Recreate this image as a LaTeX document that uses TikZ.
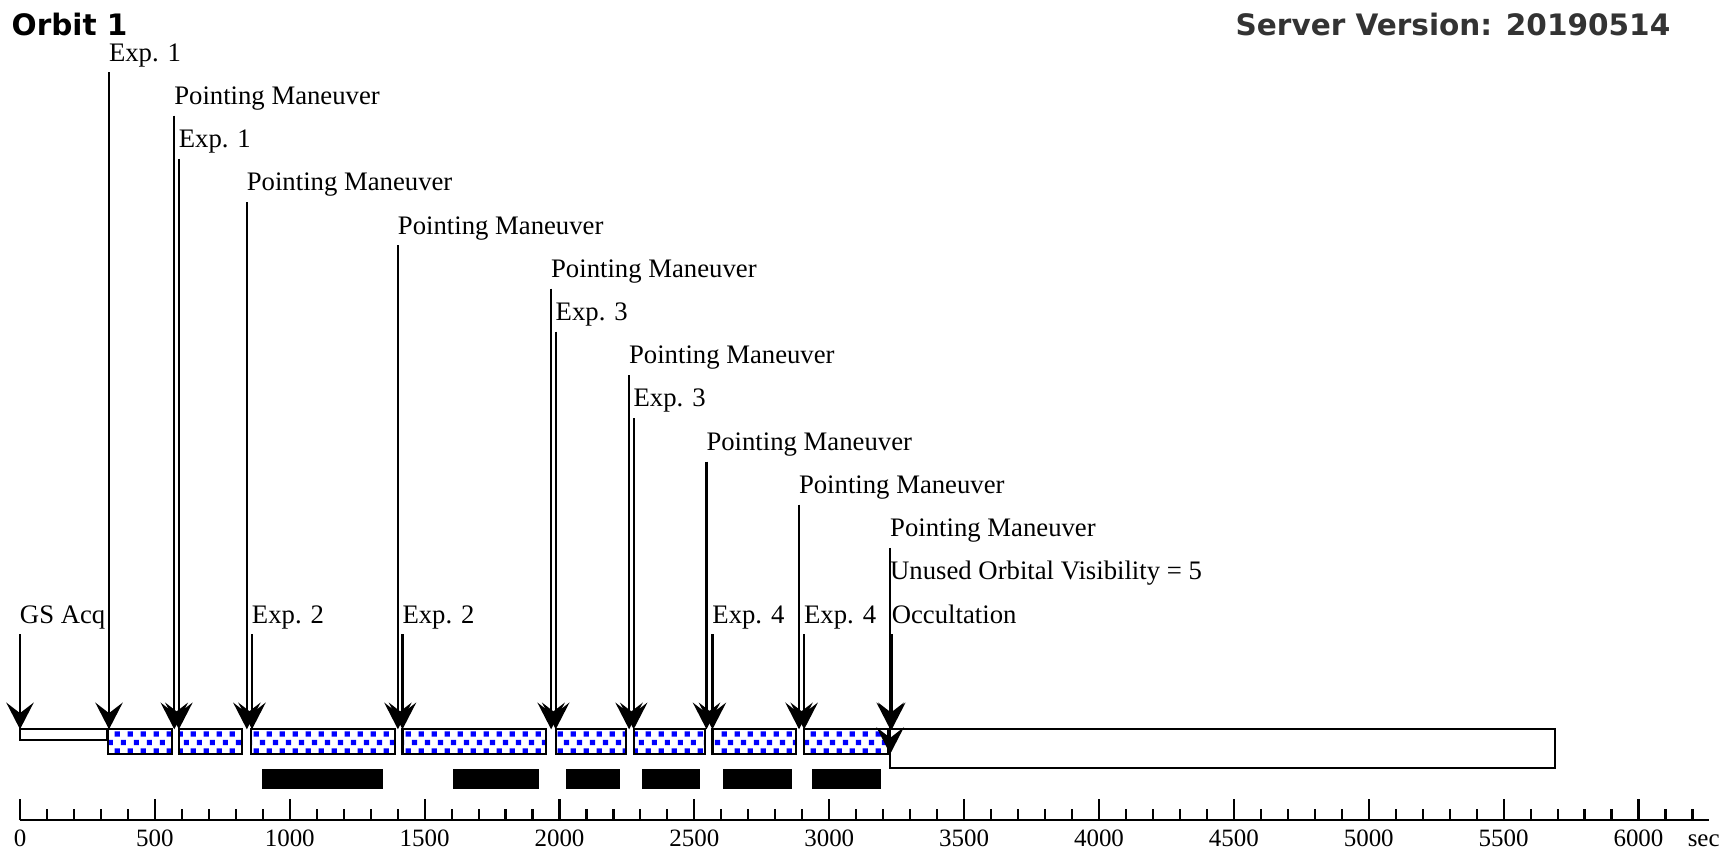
\documentclass[tikz,border=0pt]{standalone}
\usepackage{fontspec}
\setmainfont{Liberation Serif}
\newfontfamily\headfont{DejaVu Sans}
\usetikzlibrary{arrows.meta, patterns}

% blue dot fill of the scheduled slots
\pgfdeclarepatternformonly{bluedots}{\pgfpointorigin}{\pgfqpoint{3.6pt}{4.8pt}}{\pgfqpoint{3.6pt}{4.8pt}}{%
  \pgfpathrectangle{\pgfqpoint{0.2pt}{0.4pt}}{\pgfqpoint{1.5pt}{1.5pt}}%
  \pgfpathrectangle{\pgfqpoint{2pt}{2.8pt}}{\pgfqpoint{1.5pt}{1.5pt}}%
  \pgfusepath{fill}}

\begin{document}
\begin{tikzpicture}[
  x=0.1mm, y=-0.1mm,
  header/.style={font=\headfont\bfseries\fontsize{8.4}{10}\selectfont, inner sep=0pt},
  evtlabel/.style={font=\fontsize{7.6}{9}\selectfont, inner sep=0pt, outer xsep=0pt, outer ysep=1.2pt, text depth=2pt, anchor=south west},
  evtarrow/.style={-{Stealth[length=7.6pt, width=7.8pt, inset=3pt]}, line width=0.6pt},
  slot/.style={draw, line width=0.6pt, preaction={fill=white}, pattern=bluedots, pattern color=blue},
  idle/.style={draw, line width=0.6pt, fill=white},
  busy/.style={fill=black},
  axisline/.style={line width=0.6pt},
  ticklabel/.style={font=\fontsize{7.1}{8}\selectfont, inner sep=0pt, anchor=base}
]
\useasboundingbox (0,0) rectangle (1735,856);

% Header
\node[header, anchor=base west] (orbit) at (11,35) {Orbit 1};
\node[header, anchor=base east, text=black!80] (server) at (1671,35) {Server Version: 20190514};

\begin{scope}[xshift=2mm, x=0.02697mm]
\coordinate (bartop) at (0,729.3);
\coordinate (slotbottom) at (0,754);

% Bars
\draw[idle] (0,729.3) rectangle (324,740);
\draw[slot] (326,729.3) rectangle (562,754);
\draw[slot] (590,729.3) rectangle (822,754);
\draw[slot] (855,729.3) rectangle (1390,754);
\draw[slot] (1418,729.3) rectangle (1950,754);
\draw[slot] (1986,729.3) rectangle (2248,754);
\draw[slot] (2275,729.3) rectangle (2538,754);
\draw[slot] (2567,729.3) rectangle (2876,754);
\draw[slot] (2907,729.3) rectangle (3219,754);
\draw[idle] (3226,729.3) rectangle (5692,767.7);

% Busy windows
\fill[busy] (896,769) rectangle (1345,789.3);
\fill[busy] (1604,769) rectangle (1923,789.3);
\fill[busy] (2024,769) rectangle (2224,789.3);
\fill[busy] (2304,769) rectangle (2521,789.3);
\fill[busy] (2605,769) rectangle (2862,789.3);
\fill[busy] (2935,769) rectangle (3190,789.3);

% Event labels
\node[evtlabel] (gs) at (0,634.4) {GS Acq};
\node[evtlabel] (exp1a) at (330,72.3) {Exp. 1};
\node[evtlabel] (pm1) at (572,115.5) {Pointing Maneuver};
\node[evtlabel] (exp1b) at (589,158.8) {Exp. 1};
\node[evtlabel] (pm2) at (841,202.0) {Pointing Maneuver};
\node[evtlabel] (exp2a) at (860,634.4) {Exp. 2};
\node[evtlabel] (pm3) at (1401,245.3) {Pointing Maneuver};
\node[evtlabel] (exp2b) at (1418,634.4) {Exp. 2};
\node[evtlabel] (pm4) at (1969,288.5) {Pointing Maneuver};
\node[evtlabel] (exp3a) at (1986,331.7) {Exp. 3};
\node[evtlabel] (pm5) at (2258,375.0) {Pointing Maneuver};
\node[evtlabel] (exp3b) at (2275,418.2) {Exp. 3};
\node[evtlabel] (pm6) at (2545,461.5) {Pointing Maneuver};
\node[evtlabel] (exp4a) at (2567,634.4) {Exp. 4};
\node[evtlabel] (pm7) at (2888,504.7) {Pointing Maneuver};
\node[evtlabel] (exp4b) at (2907,634.4) {Exp. 4};
\node[evtlabel] (pm8) at (3226,547.9) {Pointing Maneuver};
\node[evtlabel] (unused) at (3226,591.2) {Unused Orbital Visibility = 5};
\node[evtlabel] (occ) at (3232,634.4) {Occultation};

% Event arrows
\foreach \ev in {gs, exp1a, pm1, exp1b, pm2, exp2a, pm3, exp2b, pm4, exp3a,
                 pm5, exp3b, pm6, exp4a, pm7, exp4b, pm8, occ}
  \draw[evtarrow] (\ev.south west) -- (\ev.south west |- bartop);
\draw[evtarrow] (unused.south west) -- (unused.south west |- slotbottom);

% Time axis
\draw[axisline] (0,820) -- (6262,820);
\foreach \t in {0,100,...,6200}
  \draw[axisline] (\t,820) -- (\t,809);
\foreach \t in {0,500,...,6000} {
  \draw[axisline] (\t,820) -- (\t,799);
  \node[ticklabel] (tl\t) at (\t,846) {\t};
}
\node[ticklabel, anchor=base west] (unit) at (6180,846) {sec};
\end{scope}

\end{tikzpicture}
\end{document}
